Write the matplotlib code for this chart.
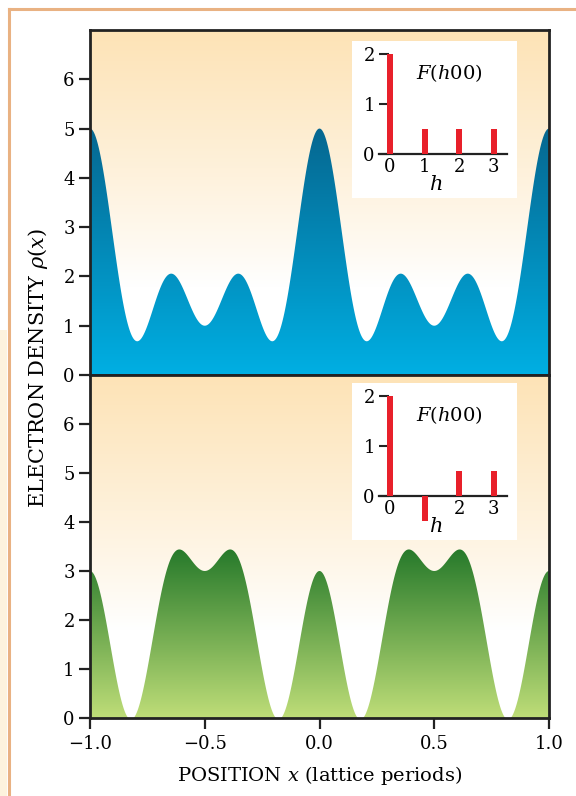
import numpy as np
import matplotlib
matplotlib.use("Agg")
import matplotlib.pyplot as plt
from matplotlib.colors import LinearSegmentedColormap, to_rgb
from matplotlib.patches import Polygon, Rectangle
from matplotlib.lines import Line2D

# Structure factors F(h00) for the two one-dimensional crystals
h_values = [0, 1, 2, 3]
F_upper = [2.0, 0.5, 0.5, 0.5]
F_lower = [2.0, -0.5, 0.5, 0.5]

x_ticks = [-1.0, -0.5, 0.0, 0.5, 1.0]
x_ticklabels = ["\u22121.0", "\u22120.5", "0.0", "0.5", "1.0"]
y_ticks = [0, 1, 2, 3, 4, 5, 6]
inset_yticks = [0, 1, 2]
inset_xticks_upper = [0, 1, 2, 3]
inset_xticks_lower = [0, 2, 3]

plt.rcParams["font.family"] = ["DejaVu Serif"]
plt.rcParams["mathtext.fontset"] = "dejavuserif"

W, H = 576, 796
fig = plt.figure(figsize=(W / 100, H / 100), dpi=100)
fig.patch.set_facecolor("white")

SPINE = "#222222"
BAR_RED = "#e8202a"
BG_TOP = to_rgb("#fde3b6")


def px_rect(x0, y0, x1, y1):
    return [x0 / W, (H - y1) / H, (x1 - x0) / W, (y1 - y0) / H]


def density(F, x):
    rho = np.full_like(x, F[0])
    for h, f in zip(h_values[1:], F[1:]):
        rho += 2 * f * np.cos(2 * np.pi * h * x)
    return np.maximum(rho, 0.0)


def background(ax):
    yy = np.linspace(0, 7, 400)
    t = np.clip((yy - 1.8) / (7 - 1.8), 0, 1) ** 0.9
    col = np.ones((len(yy), 1, 3))
    for k in range(3):
        col[:, 0, k] = 1 * (1 - t) + BG_TOP[k] * t
    ax.imshow(col, extent=[-1, 1, 0, 7], origin="lower", aspect="auto",
              zorder=0, interpolation="bilinear")


def gradient_fill(ax, x, rho, c_top, c_bottom):
    cmap = LinearSegmentedColormap.from_list("g", [c_bottom, c_top])
    grad = np.linspace(0, 1, 300).reshape(-1, 1)
    img = ax.imshow(grad, extent=[-1, 1, 0, rho.max()], origin="lower",
                    aspect="auto", cmap=cmap, zorder=2, interpolation="bilinear")
    verts = np.concatenate([np.column_stack([x, rho]),
                            [[x[-1], 0], [x[0], 0]]])
    patch = Polygon(verts, closed=True, facecolor="none", edgecolor="none",
                    transform=ax.transData)
    ax.add_patch(patch)
    img.set_clip_path(patch)


def style_main(ax, show_x):
    ax.set_xlim(-1, 1)
    ax.set_ylim(0, 7)
    ax.set_yticks(y_ticks)
    ax.tick_params(axis="y", direction="out", length=8, width=1.6,
                   color=SPINE, labelsize=13, pad=3)
    for s in ax.spines.values():
        s.set_color(SPINE)
        s.set_linewidth(2.0)
        s.set_zorder(5)
    if show_x:
        ax.set_xticks(x_ticks)
        ax.set_xticklabels(x_ticklabels)
        ax.tick_params(axis="x", direction="out", length=8, width=1.6,
                       color=SPINE, labelsize=13, pad=4)
    else:
        ax.set_xticks([])


def inset(rect, F, xticks):
    ax = fig.add_axes(rect)
    ax.set_facecolor("white")
    ax.set_xlim(-1.10, 3.67)
    ax.set_ylim(-0.87, 2.25)
    ax.bar(h_values, F, width=0.17, color=BAR_RED, zorder=3)
    for name in ["top", "right"]:
        ax.spines[name].set_visible(False)
    ax.spines["left"].set_position(("data", -0.32))
    ax.spines["left"].set_visible(False)
    ax.spines["bottom"].set_position(("data", 0))
    ax.spines["bottom"].set_bounds(-0.32, 3.38)
    ax.spines["bottom"].set_linewidth(1.6)
    ax.spines["bottom"].set_color(SPINE)
    ax.set_yticks(inset_yticks)
    ax.tick_params(axis="y", direction="in", length=7, width=1.5,
                   color=SPINE, labelsize=13, pad=3)
    ax.set_xticks(xticks)
    ax.tick_params(axis="x", length=0, labelsize=13, pad=3)
    ax.text(1.72, 1.62, r"$F(h00)$", fontsize=14, ha="center", va="center")
    ax.text(1.33, -0.6, r"$h$", fontsize=15, ha="center", va="center")
    return ax


x = np.linspace(-1, 1, 2001)

# Upper panel
ax1 = fig.add_axes(px_rect(90, 30, 549, 375))
background(ax1)
gradient_fill(ax1, x, density(F_upper, x), "#066790", "#00afe3")
style_main(ax1, show_x=False)

# Lower panel
ax2 = fig.add_axes(px_rect(90, 375, 549, 718))
background(ax2)
gradient_fill(ax2, x, density(F_lower, x), "#277a2b", "#bedd78")
style_main(ax2, show_x=True)
ax2.set_xlabel(r"POSITION $x$ (lattice periods)", fontsize=14, labelpad=8)

fig.text(38 / W, 1 - 368 / H, r"ELECTRON DENSITY $\rho(x)$", rotation=90,
         fontsize=15, ha="center", va="center")

inset(px_rect(352, 41, 517, 198), F_upper, inset_xticks_upper)
inset(px_rect(352, 383, 517, 540), F_lower, inset_xticks_lower)

# Page frame
fig.patches.append(Rectangle((0, 0), 7 / W, (H - 330) / H, transform=fig.transFigure,
                             facecolor="#fdf3dd", edgecolor="none", zorder=0))
fig.lines.append(Line2D([9 / W, 1], [1 - 9 / H, 1 - 9 / H], transform=fig.transFigure,
                        color="#e9b283", linewidth=2.2))
fig.lines.append(Line2D([9 / W, 9 / W], [0, 1 - 9 / H], transform=fig.transFigure,
                        color="#e9b283", linewidth=2.2))

fig.savefig("out.png", dpi=100)
